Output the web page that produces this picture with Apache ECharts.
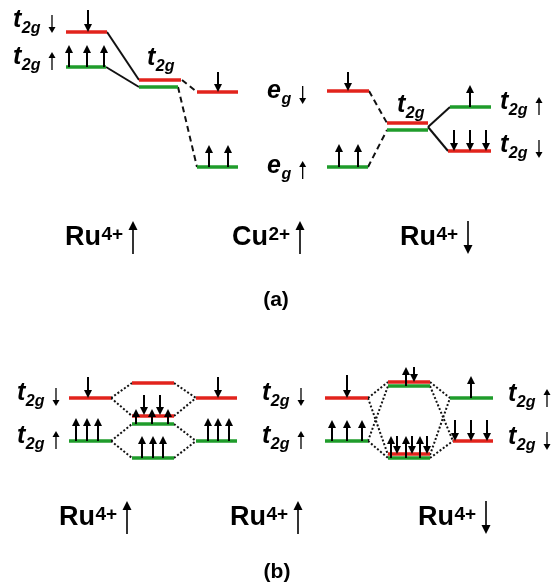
<!DOCTYPE html>
<html><head><meta charset="utf-8">
<script src="https://cdn.jsdelivr.net/npm/echarts@6/dist/echarts.min.js"></script>
<style>html,body{margin:0;padding:0;background:#fff}#c{width:552px;height:584px}</style>
</head><body><div id="c"></div>
<script>
// ---- energy levels: [x1, x2, y, colour] (r = spin-down red, g = spin-up green)
const levelsA = [
  [66,107,32,'r'],[66,106,67,'g'],
  [139,181,80,'r'],[139,178,87,'g'],
  [197,238,92,'r'],[197,238,167,'g'],
  [327,369,91,'r'],[327,368,167,'g'],
  [387,428,123,'r'],[387,428,130,'g'],
  [450,491,107,'g'],[448,491,151,'r']
];
const levelsB = [
  [69,111,398,'r'],[69,111,441,'g'],
  [132,174,383,'r'],[132,174,416,'r'],[132,174,424,'g'],[132,174,458,'g'],
  [196,237,398,'r'],[196,237,441,'g'],
  [325,368,398,'r'],[325,368,441,'g'],
  [388,430,382,'r'],[388,430,386,'g'],[388,430,454,'r'],[388,430,458,'g'],
  [450,493,398,'g'],[453,493,441,'r']
];
// ---- connectors: [x1, y1, x2, y2, style]
const connA = [
  [107,32,139,80,'solid'],[106,67,139,87,'solid'],
  [182,80,197,92,'dashed'],[178,87,197,167,'dashed'],
  [369,91,387,123,'dashed'],[368,167,387,130,'dashed'],
  [428,127,450,107,'solid'],[428,127,448,151,'solid']
];
const connB = [
  [111,398,132,383,'dotted'],[111,398,132,416,'dotted'],[111,441,132,424,'dotted'],[111,441,132,458,'dotted'],
  [174,383,196,398,'dotted'],[174,416,196,398,'dotted'],[174,424,196,441,'dotted'],[174,458,196,441,'dotted'],
  [368,398,388,382,'dotted'],[368,398,388,455,'dotted'],[368,441,388,386,'dotted'],[368,441,388,458,'dotted'],
  [430,382,450,398,'dotted'],[430,455,450,398,'dotted'],[430,386,453,441,'dotted'],[430,458,453,441,'dotted']
];
// ---- electron spins: [x, yFrom, yTip]
const spinsA = [
  [88,10,32],[69,67,45],[87,67,45],[104,67,45],
  [218,72,92],[209,167,145],[228,167,145],
  [348,72,91],[339,167,144],[358,167,144],
  [470,107,85],[454,130,151],[470,130,151],[486,130,151]
];
const spinsB = [
  [88,377,398],[76,441,418],[87,441,418],[98,441,418],
  [136,424,409],[152,424,409],[168,424,409],[144,395,415],[160,395,415],
  [142,458,436],[153,458,436],[163,458,436],
  [218,377,398],[208,441,418],[218,441,418],[229,441,418],
  [347,375,398],[332,441,420],[347,441,420],[362,441,420],
  [406,386,367],[414,367,382],
  [391,458,436],[406,458,436],[420,458,436],[397,436,454],[412,436,454],[427,436,454],
  [471,398,376],[455,420,441],[471,420,441],[487,420,441]
];
// ---- orbital labels: [x, baseline, main, subscript, spin arrow]
const orbLabels = [
  [13,29,'t','2g','↓'],[13,66,'t','2g','↑'],[147,67,'t','2g',''],
  [267,100,'e','g','↓'],[267,175,'e','g','↑'],[397,114,'t','2g',''],
  [500,111,'t','2g','↑'],[500,154,'t','2g','↓'],
  [17,402,'t','2g','↓'],[17,445,'t','2g','↑'],
  [262,402,'t','2g','↓'],[262,445,'t','2g','↑'],
  [508,403,'t','2g','↑'],[508,446,'t','2g','↓']
];
// ---- ion labels: [x, baseline, element, charge, spin]
const ionLabels = [
  [65,247,'Ru','4+','↑'],[232,247,'Cu','2+','↑'],[400,247,'Ru','4+','↓'],
  [59,527,'Ru','4+','↑'],[230,527,'Ru','4+','↑'],[418,527,'Ru','4+','↓']
];
// ---- panel labels: [xCenter, yCenter, text]
const panelLabels = [[276,300,'(a)'],[277,572,'(b)']];

const RED = '#e2231c', GREEN = '#1f9c2b';
const FAMILY = '"Liberation Sans", Arial, Helvetica, sans-serif';
const STY = {
  r:{c:RED,w:3.5}, g:{c:GREEN,w:3.5},
  solid:{c:'#111',w:2}, dashed:{c:'#111',w:2,d:[6,4]}, dotted:{c:'#111',w:2,d:[2,2]}
};

const segs = [], segStyle = [];
connA.concat(connB).forEach(c => { segs.push([c[0],c[1],c[2],c[3]]); segStyle.push(c[4]); });
levelsA.concat(levelsB).forEach(l => { segs.push([l[0],l[2],l[1],l[2]]); segStyle.push(l[3]); });
const spins = spinsA.concat(spinsB);

const mctx = document.createElement('canvas').getContext('2d');
function textW(t, st, wt, sz){ mctx.font = st + ' ' + wt + ' ' + sz + 'px ' + FAMILY; return mctx.measureText(t).width; }

function arrowEls(x, y0, y1, stemW, headW, headL){
  const dir = y1 < y0 ? -1 : 1;
  const yb = y1 - dir * headL;
  return [
    {type:'line', shape:{x1:x,y1:y0,x2:x,y2:yb + dir*1}, style:{stroke:'#000', lineWidth:stemW}},
    {type:'polygon', shape:{points:[[x-headW/2,yb],[x+headW/2,yb],[x,y1]]}, style:{fill:'#000'}}
  ];
}
function txt(x, y, text, st, wt, sz, align){
  return {type:'text', x:x, y:y, style:{text:text, fontStyle:st, fontWeight:wt, fontSize:sz, fontFamily:FAMILY,
    fill:'#000', align:align||'left', verticalAlign:'middle'}};
}

const chart = echarts.init(document.getElementById('c'));
chart.setOption({
  animation:false,
  backgroundColor:'#fff',
  grid:{left:0,right:0,top:0,bottom:0},
  xAxis:{type:'value',min:0,max:552,show:false},
  yAxis:{type:'value',min:0,max:584,inverse:true,show:false},
  series:[
    {type:'custom', data:segs, silent:true, z:1,
     renderItem:(params, api) => {
       const a = api.coord([api.value(0), api.value(1)]);
       const b = api.coord([api.value(2), api.value(3)]);
       const s = STY[segStyle[params.dataIndex]];
       return {type:'line', shape:{x1:a[0],y1:a[1],x2:b[0],y2:b[1]},
         style:{stroke:s.c, lineWidth:s.w, lineDash:s.d || null, lineCap:'butt'}};
     }},
    {type:'custom', data:spins, silent:true, z:3,
     renderItem:(params, api) => {
       const a = api.coord([api.value(0), api.value(1)]);
       const b = api.coord([api.value(0), api.value(2)]);
       return {type:'group', children:arrowEls(a[0], a[1], b[1], 2, 8, 8)};
     }},
    {type:'custom', data:orbLabels.map(l => [l[0], l[1]]), silent:true, z:4,
     renderItem:(params, api) => {
       const L = orbLabels[params.dataIndex];
       const p = api.coord([api.value(0), api.value(1)]);
       const fsM = 25, fsS = 16;
       const wM = textW(L[2], 'italic', 'bold', fsM);
       const wS = textW(L[3], 'italic', 'bold', fsS);
       const ch = [
         txt(0, -0.35*fsM, L[2], 'italic', 'bold', fsM),
         txt(wM + 0.5, 5 - 0.35*fsS, L[3], 'italic', 'bold', fsS)
       ];
       if (L[4]) {
         const ax = wM + wS + 12;
         const up = L[4] === '↑';
         arrowEls(ax, up ? 4 : -14, up ? -14 : 4, 1.3, 7, 6).forEach(e => ch.push(e));
       }
       return {type:'group', x:p[0], y:p[1], children:ch};
     }},
    {type:'custom', data:ionLabels.map(l => [l[0], l[1]]), silent:true, z:4,
     renderItem:(params, api) => {
       const L = ionLabels[params.dataIndex];
       const p = api.coord([api.value(0), api.value(1)]);
       const fsM = 27, fsS = 19;
       const wM = textW(L[2], 'normal', 'bold', fsM);
       const ch = [
         txt(0, -0.35*fsM, L[2], 'normal', 'bold', fsM),
         txt(wM + 0.5, -6 - 0.35*fsS, L[3], 'normal', 'bold', fsS)
       ];
       const up = L[4] === '↑';
       arrowEls(68, up ? 7 : -26, up ? -26 : 7, 1.6, 9, 9).forEach(e => ch.push(e));
       return {type:'group', x:p[0], y:p[1], children:ch};
     }},
    {type:'custom', data:panelLabels.map(l => [l[0], l[1]]), silent:true, z:4,
     renderItem:(params, api) => {
       const L = panelLabels[params.dataIndex];
       const p = api.coord([api.value(0), api.value(1)]);
       return txt(p[0], p[1], L[2], 'normal', 'bold', 21, 'center');
     }}
  ]
});
</script></body></html>
